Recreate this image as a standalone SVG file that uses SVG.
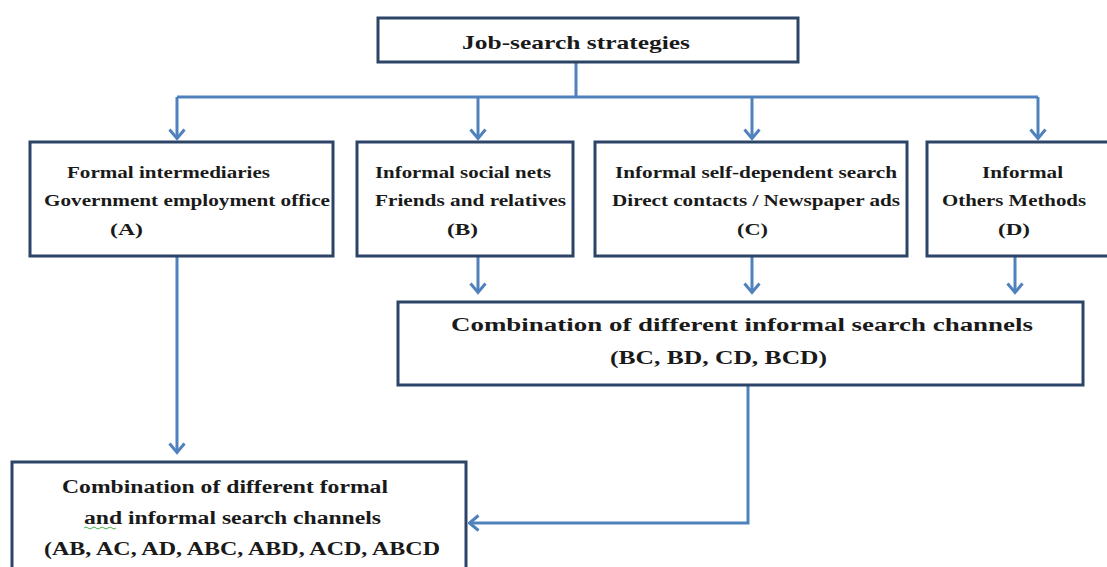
<svg xmlns="http://www.w3.org/2000/svg" width="1107" height="567" viewBox="0 0 1107 567">
<style>
.box{fill:#fff;stroke:#2c4468;stroke-width:3}
.t{font-family:"Liberation Serif","Times New Roman",serif;font-weight:bold;fill:#1a1a1a}
.s{font-size:16px}
.m{font-size:18px}
.c{fill:none;stroke:#4f81bd;stroke-width:3}
</style>
<defs>
<marker id="arr" viewBox="0 0 18 18" refX="15.5" refY="9" markerWidth="18" markerHeight="18" markerUnits="userSpaceOnUse" orient="auto">
<path d="M7,1.5 L16,9 L7,16.5" fill="none" stroke="#4f81bd" stroke-width="3" stroke-linejoin="miter"/>
</marker>
</defs>
<rect width="1107" height="567" fill="#fff"/>
<g id="connectors">
<path class="c" d="M576,62 V97"/>
<path class="c" d="M177,97 H1038"/>
<path class="c" d="M177,97 V138" marker-end="url(#arr)"/>
<path class="c" d="M478,97 V138" marker-end="url(#arr)"/>
<path class="c" d="M752,97 V138" marker-end="url(#arr)"/>
<path class="c" d="M1038,97 V138" marker-end="url(#arr)"/>
<path class="c" d="M478,256 V292" marker-end="url(#arr)"/>
<path class="c" d="M752,256 V292" marker-end="url(#arr)"/>
<path class="c" d="M1015,256 V292" marker-end="url(#arr)"/>
<path class="c" d="M177,256 V452" marker-end="url(#arr)"/>
<path class="c" d="M748,385 V523 H470" marker-end="url(#arr)"/>
</g>
<g id="root">
<rect class="box" x="378" y="18" width="420" height="44"/>
<text class="t" x="462" y="49" font-size="19" textLength="228" lengthAdjust="spacingAndGlyphs">Job-search strategies</text>
</g>
<g id="nodeA">
<rect class="box" x="30" y="142" width="303" height="114"/>
<text class="t s" x="67" y="178" textLength="203" lengthAdjust="spacingAndGlyphs">Formal intermediaries</text>
<text class="t s" x="44" y="206" textLength="286" lengthAdjust="spacingAndGlyphs">Government employment office</text>
<text class="t s" x="110" y="235" textLength="33" lengthAdjust="spacingAndGlyphs">(A)</text>
</g>
<g id="nodeB">
<rect class="box" x="357" y="142" width="216" height="114"/>
<text class="t s" x="375" y="178" textLength="176" lengthAdjust="spacingAndGlyphs">Informal social nets</text>
<text class="t s" x="375" y="206" textLength="191" lengthAdjust="spacingAndGlyphs">Friends and relatives</text>
<text class="t s" x="447" y="235" textLength="31" lengthAdjust="spacingAndGlyphs">(B)</text>
</g>
<g id="nodeC">
<rect class="box" x="595" y="142" width="312" height="114"/>
<text class="t s" x="615" y="178" textLength="282" lengthAdjust="spacingAndGlyphs">Informal self-dependent search</text>
<text class="t s" x="612" y="206" textLength="288" lengthAdjust="spacingAndGlyphs">Direct contacts / Newspaper ads</text>
<text class="t s" x="737" y="235" textLength="31" lengthAdjust="spacingAndGlyphs">(C)</text>
</g>
<g id="nodeD">
<rect class="box" x="927" y="142" width="190" height="114"/>
<text class="t s" x="982" y="178" textLength="81" lengthAdjust="spacingAndGlyphs">Informal</text>
<text class="t s" x="942" y="206" textLength="144" lengthAdjust="spacingAndGlyphs">Others Methods</text>
<text class="t s" x="998" y="235" textLength="32" lengthAdjust="spacingAndGlyphs">(D)</text>
</g>
<g id="informalCombo">
<rect class="box" x="398" y="302" width="685" height="83"/>
<text class="t m" x="451" y="331" textLength="582" lengthAdjust="spacingAndGlyphs">Combination of different informal search channels</text>
<text class="t m" x="610" y="364" textLength="217" lengthAdjust="spacingAndGlyphs">(BC, BD, CD, BCD)</text>
</g>
<g id="mixedCombo">
<rect class="box" x="12" y="462" width="454" height="115"/>
<text class="t m" x="62" y="493" textLength="326" lengthAdjust="spacingAndGlyphs">Combination of different formal</text>
<text class="t m" x="84" y="524" textLength="297" lengthAdjust="spacingAndGlyphs">and informal search channels</text>
<path d="M84,528 q2,-2 4,0 t4,0 t4,0 t4,0 t4,0 t4,0 t4,0 t4,0" fill="none" stroke="#4caf50" stroke-width="1"/>
<text class="t m" x="44" y="555" textLength="396" lengthAdjust="spacingAndGlyphs">(AB, AC, AD, ABC, ABD, ACD, ABCD</text>
</g>
</svg>
